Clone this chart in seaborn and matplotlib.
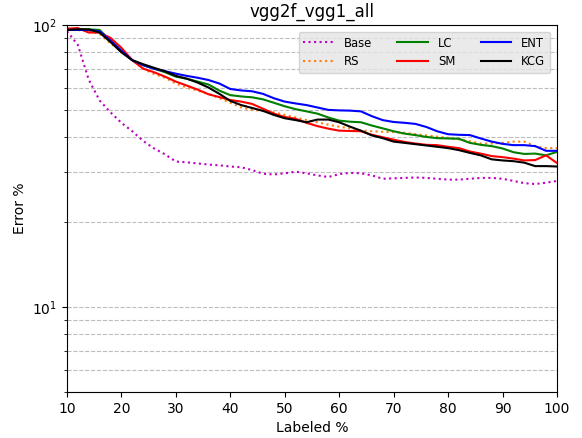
import numpy as np
import pandas as pd
import matplotlib
matplotlib.use("Agg")
import matplotlib.pyplot as plt
import seaborn as sns

# labeled percentage (every 2%)
labeled = list(range(10, 101, 2))

base = [95, 85, 64, 54, 49, 45, 42, 38.8, 36.5, 34.8, 32.8, 32.6, 32.3, 32.0, 31.8, 31.5,
        31.3, 30.6, 29.7, 29.5, 29.8, 30.2, 29.8, 29.3, 28.9, 29.6, 29.9, 29.8, 29.3, 28.5,
        28.6, 28.7, 28.8, 28.7, 28.5, 28.3, 28.3, 28.5, 28.7, 28.7, 28.5, 28.0, 27.5, 27.3,
        27.6, 28.0]
rs = [96, 96, 95, 93, 86, 81, 75, 70, 67, 65, 62, 60, 58.5, 57, 55, 53, 51, 50, 49.7, 49,
      48, 47, 46, 45.2, 44.3, 43.6, 43, 42.3, 42, 41.8, 41.7, 41.5, 41, 40.6, 40.2, 39.8,
      39.3, 38.7, 38, 38, 38.2, 38.6, 38.6, 37.2, 36.6, 36.6]
lc = [96, 96.5, 96.5, 96, 88, 81, 75, 72, 70, 68, 65.6, 64.5, 63, 61.5, 58.5, 56.4, 55.8,
      55.4, 54.5, 53, 51.5, 50.3, 49.4, 48.5, 47, 45.8, 45.4, 45.2, 44, 43, 42, 41.2, 40.7,
      40.1, 39.7, 39.6, 39.5, 38.2, 37.6, 37.2, 36.5, 35.4, 34.9, 35, 34.5, 35.5]
sm = [97, 97.5, 94, 94, 90, 83, 75, 70, 68, 65.6, 63, 61, 59, 56.8, 55.5, 54.2, 53.5, 52.5,
      50.5, 48.5, 47.2, 46.5, 45, 43.8, 42.9, 42.2, 42.1, 42, 40.8, 40, 39.2, 38.5, 38, 37.6,
      37.5, 37, 36.6, 35.6, 35, 34.3, 34, 33.6, 33.1, 33.2, 34.5, 32.4]
ent = [96, 96, 96, 95, 88, 81, 75, 72, 70, 68.6, 67.2, 66, 65, 63.8, 62, 59.3, 58.6, 58.2,
       57, 55, 53.5, 52.7, 52, 51, 50, 49.8, 49.7, 49.4, 47.5, 46, 45.3, 45, 44.6, 43.5, 42,
       41, 40.8, 40.7, 39.6, 38.6, 37.9, 37.5, 37.5, 37.2, 35.8, 35.8]
kcg = [96, 96.5, 96.5, 94, 87, 80, 75, 72.6, 70.5, 68.5, 66, 64.5, 62.5, 60, 57, 53.8, 52,
       50.8, 49.6, 48, 46.7, 46, 45.2, 46.2, 46.2, 45.2, 43.6, 42.2, 40.6, 39.7, 38.6, 38.2,
       37.8, 37.4, 37, 36.6, 36, 35.2, 34.5, 33.4, 33.1, 32.9, 32.5, 31.6, 31.6, 31.5]

series = [
    ("Base", base, "m", ":"),
    ("RS", rs, "C1", ":"),
    ("LC", lc, "g", "-"),
    ("SM", sm, "r", "-"),
    ("ENT", ent, "b", "-"),
    ("KCG", kcg, "k", "-"),
]

fig = plt.figure(figsize=(5.82, 4.38), dpi=100)
ax = fig.add_axes([0.115, 0.105, 0.842, 0.838])

for name, vals, color, ls in series:
    df = pd.DataFrame({"x": labeled, "y": vals})
    sns.lineplot(data=df, x="x", y="y", ax=ax, color=color, linestyle=ls,
                 linewidth=1.5, label=name)

ax.set_yscale("log")
ax.set_xlim(10, 100)
ax.set_ylim(5, 100)
ax.grid(True, which="both", axis="y", linestyle="--", color="#bdbdbd", linewidth=0.8)
ax.set_xlabel("Labeled %")
ax.set_ylabel("Error %")
ax.set_title("vgg2f_vgg1_all")

leg = ax.legend(ncol=3, loc="upper right", facecolor="#e5e5e5", edgecolor="#cccccc",
                framealpha=0.8, fontsize="small", handlelength=2.6, handletextpad=0.9,
                columnspacing=2.2, borderaxespad=0.6)

fig.savefig("out.png", dpi=100)
